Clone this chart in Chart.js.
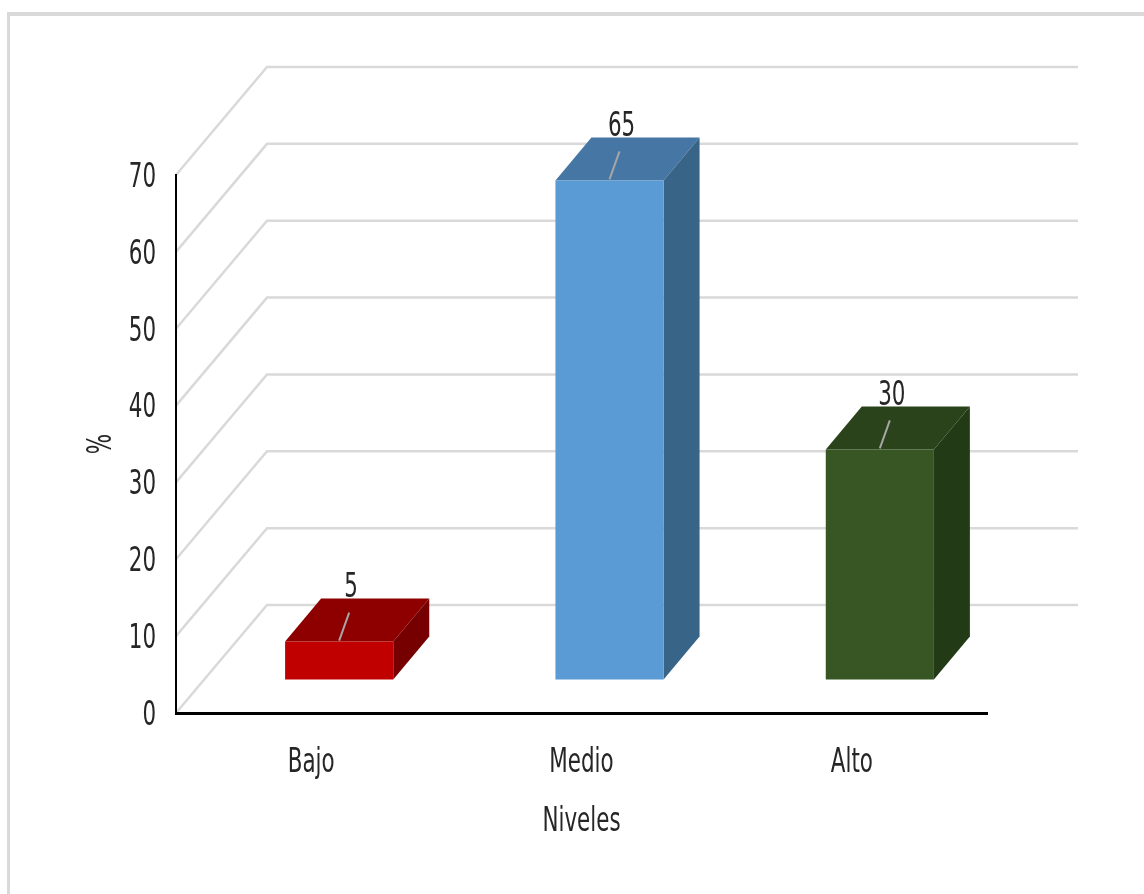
<!DOCTYPE html>
<html>
<head>
<meta charset="utf-8">
<script src="https://cdn.jsdelivr.net/npm/chart.js@4"></script>
<style>
body { margin: 0; background: #fff; }
</style>
</head>
<body>
<canvas id="myChart" width="1144" height="894"></canvas>
<script>
var niveles = ['Bajo', 'Medio', 'Alto'];
var porcentajes = [5, 65, 30];
var yTicks = [0, 10, 20, 30, 40, 50, 60, 70];

var frontColors = ['#C00000', '#5B9BD5', '#375623'];
var topColors = ['#8E0000', '#4676A3', '#2A431B'];
var sideColors = ['#760000', '#386487', '#233A17'];

var fontFamily = '"Liberation Sans Narrow", "DejaVu Sans Condensed", "Open Sans", sans-serif';
var fontSize = 34;
var textColor = '#262626';

// 3d look: back wall offset, bar offset, bar depth
var wallDx = 91, wallDy = -108;
var barDx = 28, barDy = -33;
var depthDx = 36, depthDy = -43;

var ctx = document.getElementById('myChart').getContext('2d');

// narrow the text like the original condensed font
var origFillText = ctx.fillText;
ctx.fillText = function(text, x, y, maxWidth) {
    this.save();
    this.translate(x, y);
    this.scale(0.7, 1);
    origFillText.call(this, text, 0, 0);
    this.restore();
};

var frame3d = {
    id: 'frame3d',
    beforeDraw: function(chart) {
        var ctx = chart.ctx;
        ctx.save();
        ctx.fillStyle = '#d9d9d9';
        ctx.fillRect(7, 12, chart.width - 7, 4);
        ctx.fillRect(7, 12, 3, chart.height - 12);
        ctx.restore();
    },
    beforeDatasetsDraw: function(chart) {
        var ctx = chart.ctx;
        var area = chart.chartArea;
        var y = chart.scales.y;
        ctx.save();
        ctx.strokeStyle = '#d9d9d9';
        ctx.lineWidth = 2.5;
        yTicks.forEach(function(v) {
            var py = y.getPixelForValue(v);
            ctx.beginPath();
            ctx.moveTo(area.left, py);
            ctx.lineTo(area.left + wallDx, py + wallDy);
            ctx.lineTo(area.right + wallDx, py + wallDy);
            ctx.stroke();
        });
        ctx.restore();

        ctx.save();
        ctx.translate(barDx, barDy);
        var meta = chart.getDatasetMeta(0);
        meta.data.forEach(function(bar, i) {
            var l = bar.x - bar.width / 2, r = bar.x + bar.width / 2;
            var t = bar.y, b = bar.base;
            ctx.fillStyle = topColors[i];
            ctx.beginPath();
            ctx.moveTo(l, t);
            ctx.lineTo(r, t);
            ctx.lineTo(r + depthDx, t + depthDy);
            ctx.lineTo(l + depthDx, t + depthDy);
            ctx.closePath();
            ctx.fill();
            ctx.fillStyle = sideColors[i];
            ctx.beginPath();
            ctx.moveTo(r, t);
            ctx.lineTo(r + depthDx, t + depthDy);
            ctx.lineTo(r + depthDx, b + depthDy);
            ctx.lineTo(r, b);
            ctx.closePath();
            ctx.fill();
        });
    },
    afterDatasetsDraw: function(chart) {
        var ctx = chart.ctx;
        var meta = chart.getDatasetMeta(0);
        meta.data.forEach(function(bar, i) {
            ctx.strokeStyle = '#a6a6a6';
            ctx.lineWidth = 2;
            ctx.beginPath();
            ctx.moveTo(bar.x, bar.y - 1);
            ctx.lineTo(bar.x + 10, bar.y - 29);
            ctx.stroke();
            ctx.fillStyle = textColor;
            ctx.font = fontSize + 'px ' + fontFamily;
            ctx.textAlign = 'center';
            ctx.textBaseline = 'middle';
            ctx.fillText(porcentajes[i], bar.x + 12, bar.y - 53);
        });
        ctx.restore();
    }
};

var myChart = new Chart(ctx, {
    type: 'bar',
    data: {
        labels: niveles,
        datasets: [{
            data: porcentajes,
            backgroundColor: frontColors,
            borderWidth: 0,
            barPercentage: 0.4,
            categoryPercentage: 1,
            clip: false
        }]
    },
    options: {
        responsive: false,
        animation: false,
        layout: { padding: { top: 175, right: 157, left: 0, bottom: 0 } },
        plugins: {
            legend: { display: false },
            tooltip: { enabled: false }
        },
        scales: {
            x: {
                grid: { color: 'transparent', drawTicks: false },
                border: { color: '#000', width: 3, z: 1 },
                ticks: { font: { size: fontSize, family: fontFamily }, color: textColor, padding: 30 },
                title: {
                    display: true,
                    text: 'Niveles',
                    color: textColor,
                    font: { size: fontSize, family: fontFamily },
                    padding: { top: 0, bottom: 51 }
                },
                afterFit: function(scale) { scale.height = 181; }
            },
            y: {
                min: 0,
                max: 70,
                grid: { color: 'transparent', drawTicks: false },
                border: { color: '#000', width: 2, z: 1 },
                ticks: { stepSize: 10, font: { size: fontSize, family: fontFamily }, color: textColor, padding: 20, labelOffset: 3 },
                title: {
                    display: true,
                    text: '%',
                    color: textColor,
                    font: { size: fontSize, family: fontFamily },
                    padding: { top: 82, bottom: 0 }
                },
                afterFit: function(scale) { scale.width = 176; }
            }
        }
    },
    plugins: [frame3d]
});
</script>
</body>
</html>
